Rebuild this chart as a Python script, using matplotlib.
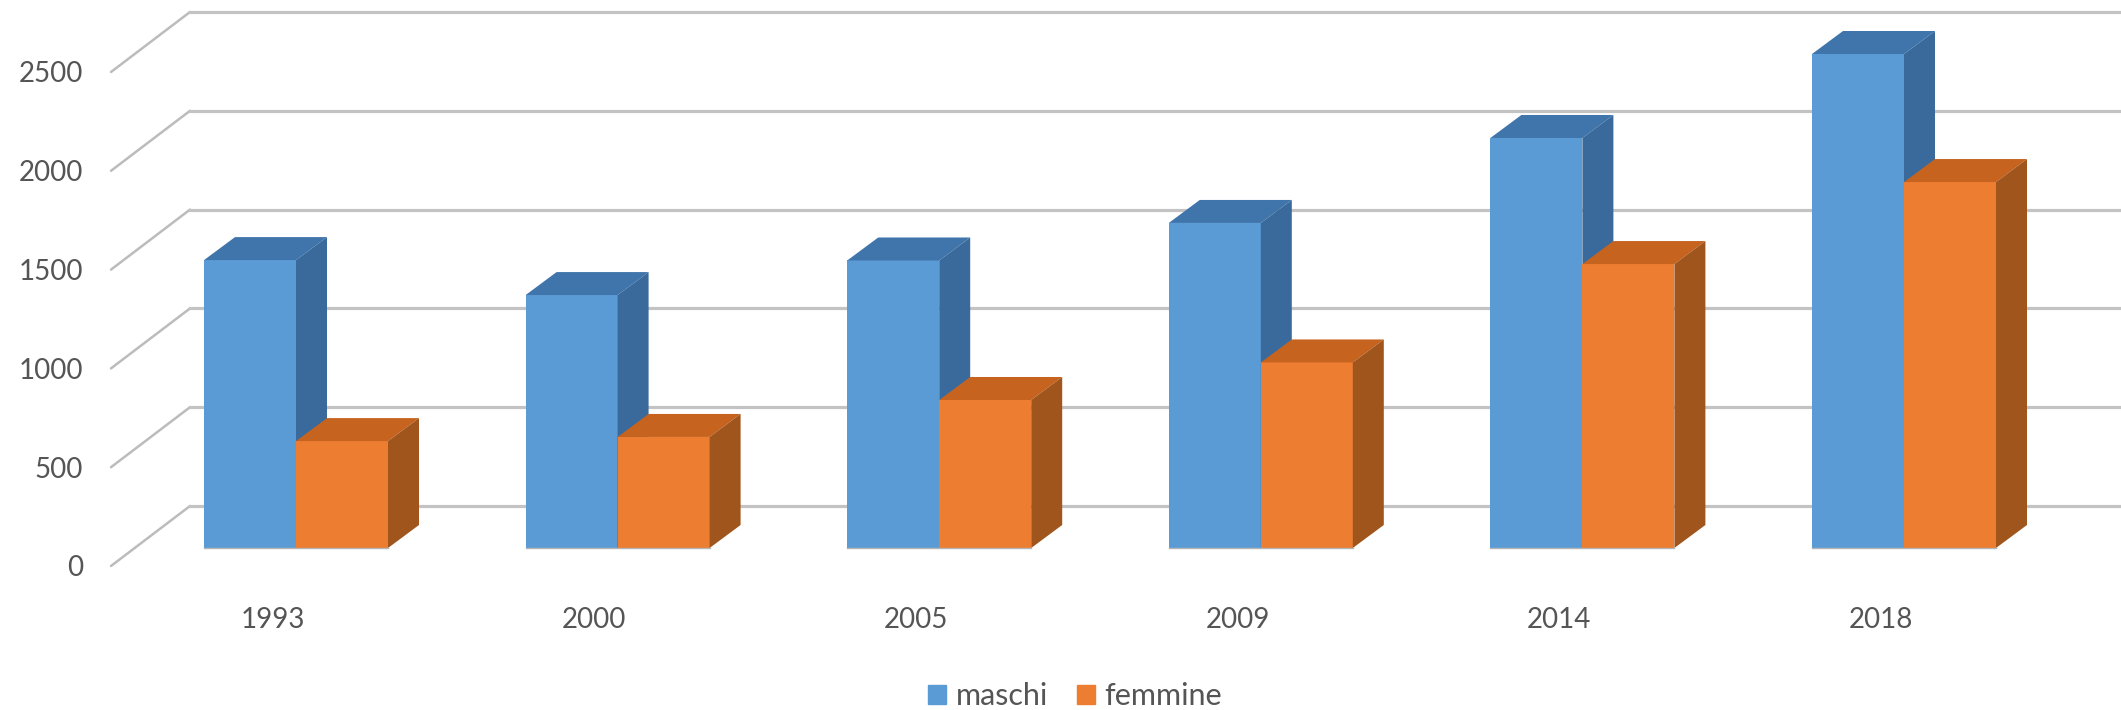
import matplotlib
matplotlib.use('Agg')
import matplotlib.pyplot as plt
from matplotlib.patches import Patch, Polygon

years = ['1993', '2000', '2005', '2009', '2014', '2018']
maschi = [1457, 1280, 1455, 1645, 2075, 2500]
femmine = [541, 562, 749, 939, 1437, 1852]
y_ticks = [0, 500, 1000, 1500, 2000, 2500]

# figure pixels per axis unit, axes fill the whole figure
W, H = 2121, 710
PX_X = 321.6    # one category
PX_Y = 0.1976   # one unit of value
X0 = 296        # pixel of first group centre
Y0 = 548        # pixel of value 0 on the bars' front plane


def dx(px):
    return px / PX_X


def dy(px):
    return px / PX_Y


plt.rcParams['font.family'] = ['Lato', 'DejaVu Sans']
fig = plt.figure(figsize=(W / 100, H / 100), dpi=100)
ax = fig.add_axes([0, 0, 1, 1])
ax.set_xlim(dx(-X0), dx(W - X0))
ax.set_ylim(dy(Y0 - H), dy(Y0))
ax.axis('off')

# oblique walls: front edge of the floor, back wall, right end
for v in y_ticks:
    fx, fy = dx(111 - X0), v + dy(Y0 - 566)
    bx, by = dx(190 - X0), v + dy(Y0 - 506)
    ax.plot([fx, bx], [fy, by], color='#bcbcbc', lw=1.8, zorder=1,
            solid_capstyle='round')
    ax.plot([bx, dx(2120 - X0)], [by, by], color='#c3c3c3', lw=2.3, zorder=1)
    ax.text(dx(83 - X0), fy - dy(2.5), str(v), ha='right', va='center', fontsize=20,
            color='#555555')

bar_w = dx(92)
depth_x = dx(31)
depth_y = dy(23)


def bars(offset, values, front, top, side, zorder):
    xs = [i + offset for i in range(len(values))]
    ax.bar(xs, values, width=bar_w, align='edge', color=front, zorder=zorder)
    for x, v in zip(xs, values):
        ax.add_patch(Polygon([(x, v), (x + depth_x, v + depth_y),
                              (x + bar_w + depth_x, v + depth_y), (x + bar_w, v)],
                             closed=True, facecolor=top, edgecolor='none', zorder=zorder))
        ax.add_patch(Polygon([(x + bar_w, 0), (x + bar_w + depth_x, depth_y),
                              (x + bar_w + depth_x, v + depth_y), (x + bar_w, v)],
                             closed=True, facecolor=side, edgecolor='none', zorder=zorder))


# orange after blue so it covers the blue side
bars(-bar_w, maschi, '#5b9bd5', '#3f75ab', '#3a6a9b', 2)
bars(0, femmine, '#ed7d31', '#c5631f', '#a0551c', 3)

# thin grey foot under the bars, year below
for i in range(len(years)):
    ax.plot([i - bar_w, i + bar_w], [0, 0], color='#b5b5b5', lw=1, zorder=4)
    ax.text(i + dx(-23.3), dy(Y0 - 620), years[i], ha='center', va='center',
            fontsize=20, color='#555555')

handles = [Patch(color='#5b9bd5'), Patch(color='#ed7d31')]
ax.legend(handles, ['maschi', 'femmine'], ncol=2, frameon=False, fontsize=22,
          labelcolor='#555555', loc='center',
          bbox_to_anchor=(1075 / W, 1 - 696 / H), handlelength=0.59,
          handleheight=0.59, handletextpad=0.3, columnspacing=0.95,
          borderpad=0, borderaxespad=0)

fig.savefig('out.png', dpi=100)
